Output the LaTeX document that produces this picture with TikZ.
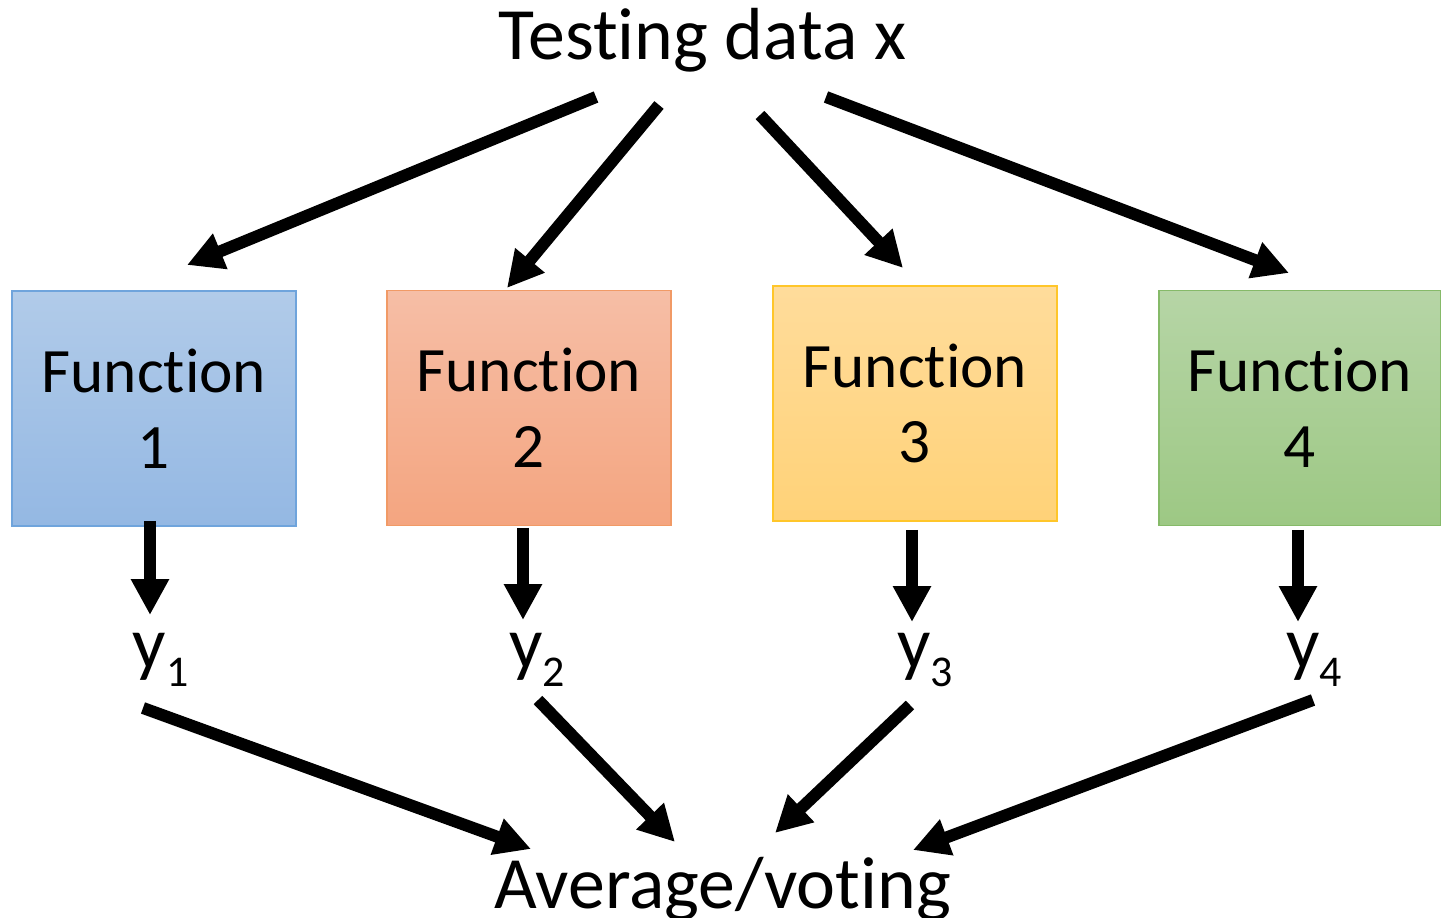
\documentclass[tikz,border=0pt]{standalone}
\usepackage{fontspec}
\setmainfont[Ligatures=NoCommon]{Carlito}
\usetikzlibrary{arrows.meta}
\definecolor{blueline}{HTML}{6FA4DC}
\definecolor{bluetop}{HTML}{B1CBE9}
\definecolor{bluebot}{HTML}{94B8E3}
\definecolor{redline}{HTML}{F19A66}
\definecolor{redtop}{HTML}{F6BEA6}
\definecolor{redbot}{HTML}{F4A580}
\definecolor{yelline}{HTML}{FFC62A}
\definecolor{yeltop}{HTML}{FFDC9B}
\definecolor{yelbot}{HTML}{FFD278}
\definecolor{grnline}{HTML}{86BA69}
\definecolor{grntop}{HTML}{B6D5A6}
\definecolor{grnbot}{HTML}{9DC884}
\newcommand\sub[1]{\raisebox{-10.2pt}{\fontsize{25}{27}\selectfont #1}}

\begin{document}
\begin{tikzpicture}[x=0.02cm, y=-0.02cm,
    func/.style={rectangle, line width=0.85pt, minimum width=5.68cm, minimum height=4.7cm, align=center, inner sep=0pt, font=\fontsize{36}{43}\selectfont},
    big/.style={inner sep=0pt, anchor=base, font=\fontsize{42}{50}\selectfont},
    arr/.style={line width=0.24cm, -{Triangle[length=0.72cm, width=0.72cm]}}]
    \useasboundingbox (0,0) rectangle (1441,918);

    \node [big] (data) at (702.5, 60) {Testing data x};
    \node [big] (avg) at (722.5, 908) {Average/voting};

    %the four functions
    \node at (154, 408.5) [func, draw=blueline, top color=bluetop, bottom color=bluebot] (f1) {Function\\1};
    \node at (529, 408) [func, draw=redline, top color=redtop, bottom color=redbot] (f2) {Function\\2};
    \node at (915, 403.5) [func, draw=yelline, top color=yeltop, bottom color=yelbot] (f3) {Function\\3};
    \node at (1300, 408) [func, draw=grnline, top color=grntop, bottom color=grnbot, minimum width=5.64cm] (f4) {Function\\4};

    %outputs
    \node [big] (y1) at (160.5, 669) {y\sub{1}};
    \node [big] (y2) at (537, 669) {y\sub{2}};
    \node [big] (y3) at (925, 669) {y\sub{3}};
    \node [big] (y4) at (1314, 669) {y\sub{4}};

    %ends of the arrows
    \coordinate (d1) at (596, 97);   \coordinate (i1) at (187, 265);
    \coordinate (d2) at (659, 105);  \coordinate (i2) at (507, 288);
    \coordinate (d3) at (760, 115);  \coordinate (i3) at (903, 268);
    \coordinate (d4) at (826, 97);   \coordinate (i4) at (1289, 273);
    \coordinate (o1) at (150, 521);  \coordinate (p1) at (150, 615);
    \coordinate (o2) at (523, 528);  \coordinate (p2) at (523, 620);
    \coordinate (o3) at (912, 530);  \coordinate (p3) at (912, 622);
    \coordinate (o4) at (1298, 530); \coordinate (p4) at (1298, 622);
    \coordinate (q1) at (143, 708);  \coordinate (v1) at (531, 849);
    \coordinate (q2) at (538, 700);  \coordinate (v2) at (675, 842);
    \coordinate (q3) at (910, 705);  \coordinate (v3) at (775, 833);
    \coordinate (q4) at (1313, 700); \coordinate (v4) at (913, 850);

    %data into functions, functions to outputs, outputs to average
    \foreach \i in {1,...,4} {
        \draw [arr] (d\i) -- (i\i);
        \draw [arr] (o\i) -- (p\i);
        \draw [arr] (q\i) -- (v\i);
    }
\end{tikzpicture}
\end{document}
